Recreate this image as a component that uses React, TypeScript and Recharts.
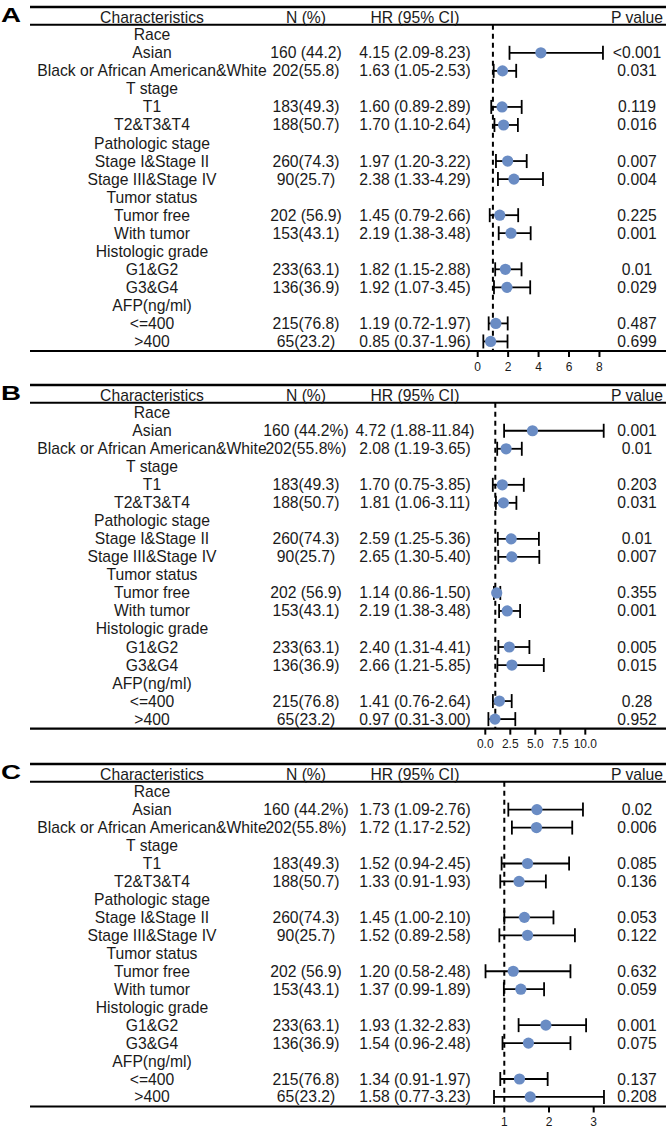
import React from 'react';
import { ScatterChart, Scatter, XAxis, YAxis, ErrorBar, ReferenceLine } from 'recharts';

// ---------- shared table content ----------
const characteristics = [
  'Race', 'Asian', 'Black or African American&White',
  'T stage', 'T1', 'T2&T3&T4',
  'Pathologic stage', 'Stage I&Stage II', 'Stage III&Stage IV',
  'Tumor status', 'Tumor free', 'With tumor',
  'Histologic grade', 'G1&G2', 'G3&G4',
  'AFP(ng/ml)', '<=400', '>400',
];
const subgroupRows = [1, 2, 4, 5, 7, 8, 10, 11, 13, 14, 16, 17];
const headerLabels = ['Characteristics', 'N (%)', 'HR (95% CI)', 'P value'];

// ---------- panel A ----------
const nA = ['160 (44.2)', '202(55.8)', '183(49.3)', '188(50.7)', '260(74.3)', '90(25.7)', '202 (56.9)', '153(43.1)', '233(63.1)', '136(36.9)', '215(76.8)', '65(23.2)'];
const hrA = [4.15, 1.63, 1.60, 1.70, 1.97, 2.38, 1.45, 2.19, 1.82, 1.92, 1.19, 0.85];
const loA = [2.09, 1.05, 0.89, 1.10, 1.20, 1.33, 0.79, 1.38, 1.15, 1.07, 0.72, 0.37];
const hiA = [8.23, 2.53, 2.89, 2.64, 3.22, 4.29, 2.66, 3.48, 2.88, 3.45, 1.97, 1.96];
const pA = ['<0.001', '0.031', '0.119', '0.016', '0.007', '0.004', '0.225', '0.001', '0.01', '0.029', '0.487', '0.699'];
const ticksA = [0, 2, 4, 6, 8];
const tickLabelsA = ['0', '2', '4', '6', '8'];

// ---------- panel B ----------
const nB = ['160 (44.2%)', '202(55.8%)', '183(49.3)', '188(50.7)', '260(74.3)', '90(25.7)', '202 (56.9)', '153(43.1)', '233(63.1)', '136(36.9)', '215(76.8)', '65(23.2)'];
const hrB = [4.72, 2.08, 1.70, 1.81, 2.59, 2.65, 1.14, 2.19, 2.40, 2.66, 1.41, 0.97];
const loB = [1.88, 1.19, 0.75, 1.06, 1.25, 1.30, 0.86, 1.38, 1.31, 1.21, 0.76, 0.31];
const hiB = [11.84, 3.65, 3.85, 3.11, 5.36, 5.40, 1.50, 3.48, 4.41, 5.85, 2.64, 3.00];
const pB = ['0.001', '0.01', '0.203', '0.031', '0.01', '0.007', '0.355', '0.001', '0.005', '0.015', '0.28', '0.952'];
const ticksB = [0, 2.5, 5, 7.5, 10];
const tickLabelsB = ['0.0', '2.5', '5.0', '7.5', '10.0'];

// ---------- panel C ----------
const nC = ['160 (44.2%)', '202(55.8%)', '183(49.3)', '188(50.7)', '260(74.3)', '90(25.7)', '202 (56.9)', '153(43.1)', '233(63.1)', '136(36.9)', '215(76.8)', '65(23.2)'];
const hrC = [1.73, 1.72, 1.52, 1.33, 1.45, 1.52, 1.20, 1.37, 1.93, 1.54, 1.34, 1.58];
const loC = [1.09, 1.17, 0.94, 0.91, 1.00, 0.89, 0.58, 0.99, 1.32, 0.96, 0.91, 0.77];
const hiC = [2.76, 2.52, 2.45, 1.93, 2.10, 2.58, 2.48, 1.89, 2.83, 2.48, 1.97, 3.23];
const pC = ['0.02', '0.006', '0.085', '0.136', '0.053', '0.122', '0.632', '0.059', '0.001', '0.075', '0.137', '0.208'];
const ticksC = [1, 2, 3];
const tickLabelsC = ['1', '2', '3'];

// ---------- styling / layout ----------
const FONT = '"Liberation Sans", Arial, Helvetica, sans-serif';
const TEXT_COLOR = '#1a1a1a';
const POINT_COLOR = '#6a8cc4';
const TEXT_SIZE = 15.7;
const COL_LABEL = 152;
const COL_N = 306;
const COL_HR = 415;
const COL_P = 637;
const IDX_TOP = -1.54;
const IDX_HEADER = -0.95;
const IDX_HEADER_LINE = -0.556;
const IDX_BOTTOM = 17.53;
const PAD_TOP = 10;
const AXIS_H = 24;
const PLOT_LEFT = 30;
const WIDTH = 666;

const fmt = (v: number) => v.toFixed(2);

function makeTextShape() {
  return (props: any) => {
    const { cy } = props;
    const d = props.payload || props;
    const common = {
      y: cy,
      dominantBaseline: 'central' as any,
      fontFamily: FONT,
      fontSize: TEXT_SIZE,
      fill: TEXT_COLOR,
      textAnchor: 'middle' as any,
    };
    return (
      <g>
        <text x={COL_LABEL} {...common}>{d.label}</text>
        {d.n ? <text x={COL_N} {...common}>{d.n}</text> : null}
        {d.hrText ? <text x={COL_HR} {...common}>{d.hrText}</text> : null}
        {d.p ? <text x={COL_P} {...common}>{d.p}</text> : null}
      </g>
    );
  };
}

const PointShape = (props: any) => {
  const { cx, cy } = props;
  return <circle cx={cx} cy={cy} r={5.6} fill={POINT_COLOR} />;
};

type PanelProps = {
  letter: string;
  topLine: number;
  rowPx: number;
  n: string[];
  hr: number[];
  lo: number[];
  hi: number[];
  p: string[];
  ticks: number[];
  tickLabels: string[];
  zeroPx: number; // pixel of first tick
  unitPx: number;
};

function ForestPanel(props: PanelProps) {
  const { letter, topLine, rowPx, n, hr, lo, hi, p, ticks, tickLabels, zeroPx, unitPx } = props;
  const plotH = (IDX_BOTTOM - IDX_TOP) * rowPx;
  const height = PAD_TOP + plotH + AXIS_H;
  const t0 = ticks[0];
  const domain = [t0 - (zeroPx - PLOT_LEFT) / unitPx, t0 + (WIDTH - zeroPx) / unitPx];

  const points = subgroupRows.map((row, k) => ({
    x: hr[k],
    y: row,
    err: [hr[k] - lo[k], hi[k] - hr[k]],
  }));

  const textRows: any[] = [
    { x: t0, y: IDX_HEADER, label: headerLabels[0], n: headerLabels[1], hrText: headerLabels[2], p: headerLabels[3] },
  ];
  characteristics.forEach((label, row) => {
    const k = subgroupRows.indexOf(row);
    if (k < 0) {
      textRows.push({ x: t0, y: row, label });
    } else {
      textRows.push({
        x: t0,
        y: row,
        label,
        n: n[k],
        hrText: `${fmt(hr[k])} (${fmt(lo[k])}-${fmt(hi[k])})`,
        p: p[k],
      });
    }
  });

  const tickFmt = (v: number) => {
    const i = ticks.indexOf(v);
    return i >= 0 ? tickLabels[i] : String(v);
  };

  return (
    <div style={{ position: 'absolute', left: 0, top: topLine - PAD_TOP, width: WIDTH, height }}>
      <svg width={30} height={40} style={{ position: 'absolute', left: 0, top: 0 }}>
        <text x={1} y={PAD_TOP + 14.7} fontFamily={FONT} fontWeight="bold" fontSize={20}
          textLength={20} lengthAdjust="spacingAndGlyphs" fill="#000">{letter}</text>
      </svg>
      <ScatterChart
        width={WIDTH}
        height={height}
        margin={{ top: PAD_TOP, right: 0, bottom: 0, left: PLOT_LEFT }}
        style={{ position: 'absolute', left: 0, top: 0 }}
      >
        <XAxis
          type="number"
          dataKey="x"
          domain={domain}
          allowDataOverflow
          ticks={ticks}
          interval={0}
          tickFormatter={tickFmt}
          height={AXIS_H}
          tickSize={6}
          tickMargin={5}
          axisLine={{ stroke: '#000', strokeWidth: 2.2 }}
          tickLine={{ stroke: '#000', strokeWidth: 2 }}
          tick={{ fill: TEXT_COLOR, fontSize: 12, fontFamily: FONT }}
        />
        <YAxis type="number" dataKey="y" domain={[IDX_TOP, IDX_BOTTOM]} reversed hide allowDataOverflow />
        <ReferenceLine y={IDX_TOP} stroke="#000" strokeWidth={2.5} ifOverflow="visible" />
        <ReferenceLine y={IDX_HEADER_LINE} stroke="#000" strokeWidth={2} ifOverflow="visible" />
        <ReferenceLine
          segment={[{ x: 1, y: IDX_HEADER_LINE }, { x: 1, y: IDX_BOTTOM }]}
          stroke="#000"
          strokeWidth={2}
          strokeDasharray="5 4"
          ifOverflow="visible"
        />
        <Scatter data={textRows} shape={makeTextShape()} isAnimationActive={false} />
        <Scatter data={points} shape={PointShape} isAnimationActive={false}>
          <ErrorBar dataKey="err" direction="x" width={7} strokeWidth={1.8} stroke="#000" />
        </Scatter>
      </ScatterChart>
    </div>
  );
}

export default function App() {
  return (
    <div style={{ position: 'absolute', left: 0, top: 0, width: 666, height: 1130, background: '#fff', overflow: 'hidden' }}>
      <ForestPanel letter="A" topLine={7.3} rowPx={18.04} n={nA} hr={hrA} lo={loA} hi={hiA} p={pA}
        ticks={ticksA} tickLabels={tickLabelsA} zeroPx={477.7} unitPx={15.22} />
      <ForestPanel letter="B" topLine={385} rowPx={18.02} n={nB} hr={hrB} lo={loB} hi={hiB} p={pB}
        ticks={ticksB} tickLabels={tickLabelsB} zeroPx={485.3} unitPx={10} />
      <ForestPanel letter="C" topLine={764} rowPx={17.96} n={nC} hr={hrC} lo={loC} hi={hiC} p={pC}
        ticks={ticksC} tickLabels={tickLabelsC} zeroPx={504.3} unitPx={44.7} />
    </div>
  );
}
